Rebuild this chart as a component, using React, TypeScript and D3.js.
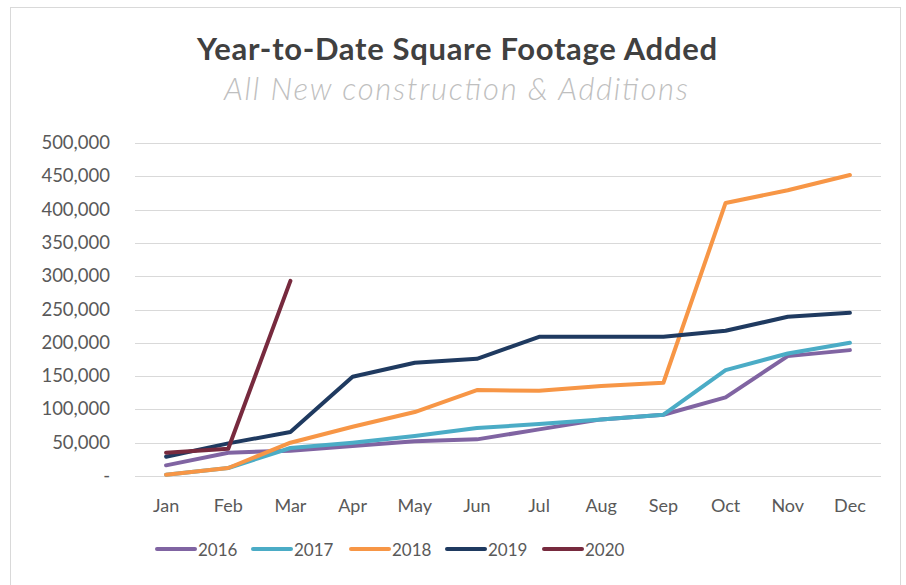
import React, { useEffect, useRef } from 'react';
import * as d3 from 'd3';

const months = ['Jan', 'Feb', 'Mar', 'Apr', 'May', 'Jun', 'Jul', 'Aug', 'Sep', 'Oct', 'Nov', 'Dec'];
const yTicks = [0, 50000, 100000, 150000, 200000, 250000, 300000, 350000, 400000, 450000, 500000];

const years = ['2016', '2017', '2018', '2019', '2020'];
const colors = ['#8064A2', '#4BACC6', '#F79646', '#1F3A60', '#772A3E'];

const v2016 = [16000, 35000, 38000, 45000, 52000, 55000, 70000, 85000, 92000, 118000, 180000, 189000];
const v2017 = [2000, 12000, 42000, 50000, 60000, 72000, 78000, 85000, 92000, 159000, 184000, 200000];
const v2018 = [2000, 12000, 50000, 74000, 96000, 129000, 128000, 135000, 140000, 410000, 429000, 452000];
const v2019 = [29000, 49000, 66000, 149000, 170000, 176000, 209000, 209000, 209000, 218000, 239000, 245000];
const v2020 = [35000, 41000, 293000];

const App = () => {
  const ref = useRef<SVGSVGElement>(null);

  useEffect(() => {
    const svg = d3.select(ref.current);
    svg.selectAll('*').remove();

    const W = 906;
    const H = 585;
    const left = 135;
    const right = 881;
    const top = 143;
    const bottom = 476;

    const x = d3.scaleBand().domain(months).range([left, right]);
    const y = d3.scaleLinear().domain([0, 500000]).range([bottom, top]);
    const cx = (m: string) => (x(m) as number) + x.bandwidth() / 2;

    svg.append('rect').attr('width', W).attr('height', H).attr('fill', '#ffffff');
    // borde del grafico
    svg.append('rect')
      .attr('x', 10.5).attr('y', 7.5)
      .attr('width', 890).attr('height', 600)
      .attr('fill', 'none').attr('stroke', '#D9D9D9').attr('stroke-width', 1);

    svg.append('text')
      .attr('x', 457).attr('y', 60)
      .attr('text-anchor', 'middle')
      .attr('textLength', 520)
      .attr('lengthAdjust', 'spacing')
      .style('font-family', 'Lato, sans-serif')
      .style('font-weight', 'bold')
      .style('font-size', '31px')
      .style('fill', '#404040')
      .text('Year-to-Date Square Footage Added');

    svg.append('text')
      .attr('x', 456).attr('y', 100)
      .attr('text-anchor', 'middle')
      .attr('textLength', 464)
      .attr('lengthAdjust', 'spacing')
      .style('font-family', 'Lato, sans-serif')
      .style('font-style', 'italic')
      .style('font-weight', 300)
      .style('font-size', '31px')
      .style('fill', '#BFBFBF')
      .text('All New construction & Additions');

    // rejilla
    svg.append('g')
      .selectAll('line')
      .data(yTicks)
      .join('line')
      .attr('x1', left).attr('x2', right)
      .attr('y1', (d) => Math.round(y(d)) + 0.5)
      .attr('y2', (d) => Math.round(y(d)) + 0.5)
      .attr('stroke', '#D9D9D9')
      .attr('stroke-width', 1);

    const fmt = d3.format(',');
    svg.append('g')
      .selectAll('text')
      .data(yTicks)
      .join('text')
      .attr('x', 110)
      .attr('y', (d) => y(d) + 6)
      .attr('text-anchor', 'end')
      .style('font-family', 'Lato, sans-serif')
      .style('font-size', '18.5px')
      .style('fill', '#595959')
      .text((d) => (d === 0 ? '-' : fmt(d)));

    svg.append('g')
      .selectAll('text')
      .data(months)
      .join('text')
      .attr('x', (d) => cx(d))
      .attr('y', 512)
      .attr('text-anchor', 'middle')
      .style('font-family', 'Lato, sans-serif')
      .style('font-size', '18px')
      .style('fill', '#595959')
      .text((d) => d);

    const series = [v2016, v2017, v2018, v2019, v2020];
    const line = d3.line<number>()
      .x((d, i) => cx(months[i]))
      .y((d) => y(d));

    series.forEach((s, i) => {
      svg.append('path')
        .datum(s)
        .attr('d', line)
        .attr('fill', 'none')
        .attr('stroke', colors[i])
        .attr('stroke-width', 4)
        .attr('stroke-linejoin', 'round')
        .attr('stroke-linecap', 'round');
    });

    // leyenda
    const legendX = [157, 253, 351, 447, 544];
    const lg = svg.append('g');
    years.forEach((yr, i) => {
      lg.append('line')
        .attr('x1', legendX[i]).attr('x2', legendX[i] + 38)
        .attr('y1', 549).attr('y2', 549)
        .attr('stroke', colors[i])
        .attr('stroke-width', 4)
        .attr('stroke-linecap', 'round');
      lg.append('text')
        .attr('x', legendX[i] + 41)
        .attr('y', 556)
        .style('font-family', 'Lato, sans-serif')
        .style('font-size', '17px')
        .style('fill', '#595959')
        .text(yr);
    });
  }, []);

  return (
    <div>
      <svg ref={ref} width={906} height={585} style={{ position: 'absolute', left: 0, top: 0 }} />
    </div>
  );
};

export default App;
